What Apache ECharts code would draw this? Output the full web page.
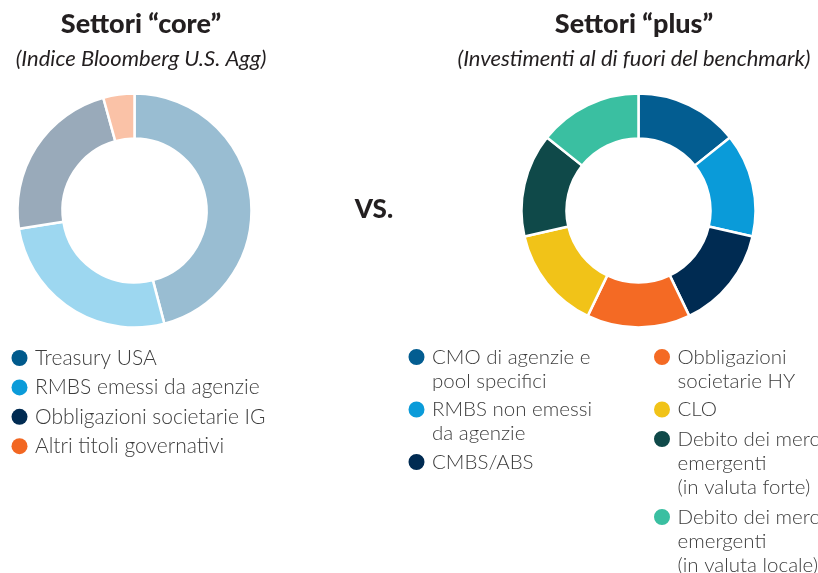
<!DOCTYPE html>
<html><head><meta charset="utf-8">
<script src="https://cdn.jsdelivr.net/npm/echarts@6/dist/echarts.min.js"></script>
<style>html,body{margin:0;padding:0;background:#fff}#c{width:818px;height:573px}</style>
</head><body><div id="c"></div>
<script>
// ---- data ----
const coreNames = ['Treasury USA', 'RMBS emessi da agenzie', 'Obbligazioni societarie IG', 'Altri titoli governativi'];
const coreValues = [45.9, 26.6, 23.2, 4.3];
const coreLegendColors = ['#005a8c', '#0b9bd9', '#002b52', '#f26722'];
const coreSliceColors = ['#99bdd2', '#9dd7f0', '#99aaba', '#fac2a7'];

const plusNames = ['CMO di agenzie e pool specifici', 'RMBS non emessi da agenzie', 'CMBS/ABS',
  'Obbligazioni societarie HY', 'CLO', 'Debito dei mercati emergenti (in valuta forte)',
  'Debito dei mercati emergenti (in valuta locale)'];
const plusLabels = ['CMO di agenzie e\npool specifici', 'RMBS non emessi\nda agenzie', 'CMBS/ABS',
  'Obbligazioni\nsocietarie HY', 'CLO', 'Debito dei mercati\nemergenti\n(in valuta forte)',
  'Debito dei mercati\nemergenti\n(in valuta locale)'];
const plusValues = [1, 1, 1, 1, 1, 1, 1];
const plusColors = ['#035d91', '#0a9bd9', '#002b52', '#f46a24', '#f1c318', '#0f4949', '#3abfa1'];

const titles = [
  { text: 'Settori “core”', sub: '(Indice Bloomberg U.S. Agg)', x: 141 },
  { text: 'Settori “plus”', sub: '(Investimenti al di fuori del benchmark)', x: 634 }
];

// ---- chart ----
const FONT = 'Lato, "Open Sans", sans-serif';
const LH = 24;
const IW = 21;
const labelMap = {};
plusNames.forEach((n, i) => labelMap[n] = plusLabels[i]);

const textStyle = { fontFamily: FONT, fontSize: 20.5, fontWeight: 300, color: '#3d3d3d', lineHeight: LH };

// icon: circle aligned to the first text line, in a box as tall as the whole label
function iconPath(lines) {
  const h = lines * LH;
  return 'path://M0,0L0.001,0L0,0.001ZM' + IW + ',' + h + 'L' + (IW - 0.001) + ',' + h + 'L' + IW + ',' + (h - 0.001) +
    'ZM2.5,12A8,8,0,1,1,18.5,12A8,8,0,1,1,2.5,12Z';
}
// right-side legend positions: [column left, first-line centre y]
const plusLegendPos = [[406, 357], [406, 409.5], [406, 462], [651.5, 357], [651.5, 409.5], [651.5, 439], [651.5, 517]];

const legends = [{
  orient: 'vertical', left: 11.5, top: 346, padding: 0, itemGap: 5.4,
  itemWidth: IW, itemHeight: 16, icon: 'circle', selectedMode: false,
  itemStyle: { borderWidth: 0, opacity: 1 },
  data: coreNames.map((n, i) => ({ name: n, itemStyle: { color: coreLegendColors[i] } })),
  textStyle: Object.assign({}, textStyle, { fontSize: 21 })
}];
plusNames.forEach((n, i) => {
  const lines = plusLabels[i].split('\n').length;
  legends.push({
    orient: 'vertical', left: plusLegendPos[i][0], top: plusLegendPos[i][1] - 12, padding: 0,
    itemWidth: IW, itemHeight: lines * LH, selectedMode: false,
    itemStyle: { borderWidth: 0, opacity: 1 },
    data: [{ name: n, icon: iconPath(lines), itemStyle: { color: plusColors[i] } }],
    formatter: function (name) { return labelMap[name] || name; },
    textStyle: textStyle
  });
});

const chart = echarts.init(document.getElementById('c'), null, { renderer: 'canvas' });
chart.setOption({
  animation: false,
  backgroundColor: '#ffffff',
  title: titles.map(t => ({
    text: t.text, subtext: t.sub, left: t.x, top: 9, textAlign: 'center', padding: 0, itemGap: 8,
    textStyle: { fontFamily: FONT, fontSize: 27, fontWeight: 900, color: '#231f20', lineHeight: 30 },
    subtextStyle: { fontFamily: FONT, fontSize: 22, fontStyle: 'italic', fontWeight: 'normal', color: '#231f20', lineHeight: 24 }
  })).concat([{
    text: 'VS.', left: 374, top: 197, textAlign: 'center', padding: 0,
    textStyle: { fontFamily: FONT, fontSize: 26, fontWeight: 900, color: '#231f20' }
  }]),
  legend: legends,
  series: [
    {
      type: 'pie', center: [134.5, 210.5], radius: [72, 117], startAngle: 90, clockwise: true,
      label: { show: false }, labelLine: { show: false }, emphasis: { disabled: true }, silent: true,
      itemStyle: { borderColor: '#ffffff', borderWidth: 2.5 },
      data: coreNames.map((n, i) => ({ name: n, value: coreValues[i], itemStyle: { color: coreSliceColors[i] } }))
    },
    {
      type: 'pie', center: [638.5, 210.5], radius: [72, 117], startAngle: 90, clockwise: true,
      label: { show: false }, labelLine: { show: false }, emphasis: { disabled: true }, silent: true,
      itemStyle: { borderColor: '#ffffff', borderWidth: 2.5 },
      data: plusNames.map((n, i) => ({ name: n, value: plusValues[i], itemStyle: { color: plusColors[i] } }))
    }
  ]
});
</script></body></html>
